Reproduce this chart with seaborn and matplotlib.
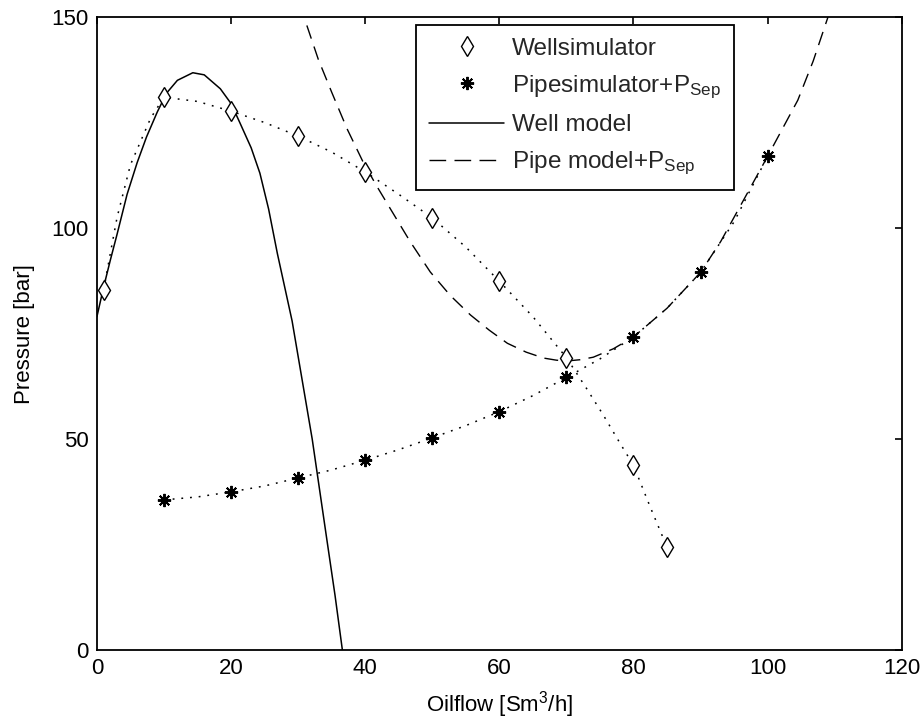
import matplotlib
matplotlib.use('Agg')
import numpy as np
import seaborn as sns
import matplotlib.pyplot as plt
from matplotlib.lines import Line2D

# measured points
well_sim_x = [1, 10, 20, 30, 40, 50, 60, 70, 80, 85]
well_sim_y = [85.3, 131, 127.7, 121.8, 113.3, 102.4, 87.4, 69.3, 43.8, 24.4]
pipe_sim_x = [10, 20, 30, 40, 50, 60, 70, 80, 90, 100]
pipe_sim_y = [35.6, 37.5, 40.8, 45.0, 50.3, 56.5, 64.6, 74.2, 89.5, 117.0]

well_dot_x = [1, 2, 3, 5, 8, 10, 15, 20, 25, 30, 35, 40, 45, 50, 55, 60, 65, 70, 73, 75.5, 78, 80, 82.5, 85]
well_dot_y = [85.3, 94, 102.5, 115, 126, 131, 130, 127.7, 125, 121.8, 118, 113.3, 108, 102.4, 95.5, 87.4, 79, 69.3, 62, 55.7, 49, 43.8, 33.9, 24.4]
pipe_dot_x = [10, 15, 20, 25, 30, 35, 40, 45, 50, 55, 60, 65, 70, 75, 80, 85, 90, 95, 100]
pipe_dot_y = [35.6, 36.3, 37.5, 38.9, 40.8, 42.7, 45.0, 47.5, 50.3, 53.2, 56.5, 60.3, 64.6, 69.0, 74.2, 81.0, 89.5, 101.5, 117.0]

# model curves
well_mod_x = [0, 1, 2, 3, 4.5, 6, 7.4, 9, 10.4, 12, 14.3, 16, 18.4, 20, 21.3, 23, 24.3, 25.6, 26.9, 28, 29.1, 30.6, 32.1, 33.2, 34.3, 35.5, 36.6]
well_mod_y = [79, 86, 92.4, 98.5, 108, 115.5, 121.6, 127.5, 132, 135, 136.8, 136.3, 133, 129.5, 125, 119, 113, 104.5, 94, 86, 78, 64, 50, 38, 26, 13, 0]
pipe_mod_x = [31.3, 33, 35, 37.3, 39.7, 41.7, 43.7, 46.7, 49.7, 52.7, 55.7, 58.5, 61.2, 64, 66.6, 68.5, 70, 72, 74, 77, 80, 85, 90, 93, 96.4, 100, 102.2, 104.5, 106.8, 109]
pipe_mod_y = [148, 140, 132.2, 123.5, 115.6, 110, 104.7, 96.8, 89.6, 84, 79.4, 75.8, 72.7, 70.6, 69.2, 68.7, 68.5, 68.8, 69.4, 71.4, 74.2, 81, 89.5, 96.8, 106.6, 117, 123.5, 130.3, 139.6, 150]

xticks = [0, 20, 40, 60, 80, 100, 120]
yticks = [0, 50, 100, 150]

sns.set_style("white")
plt.rcParams['font.family'] = ['Liberation Sans', 'DejaVu Sans']
plt.rcParams['mathtext.default'] = 'regular'

fig = plt.figure(figsize=(9.23, 7.24), dpi=100)
ax = fig.add_axes([0.105, 0.102, 0.872, 0.8745])

dot = (0, (1.2, 4.5))
dash = (0, (10, 6))
sns.lineplot(x=well_dot_x, y=well_dot_y, sort=False, estimator=None, color='black', lw=1.1, linestyle=dot, ax=ax)
sns.lineplot(x=pipe_dot_x, y=pipe_dot_y, sort=False, estimator=None, color='black', lw=1.1, linestyle=dot, ax=ax)
sns.lineplot(x=well_mod_x, y=well_mod_y, sort=False, estimator=None, color='black', lw=1.1, ax=ax)
sns.lineplot(x=pipe_mod_x, y=pipe_mod_y, sort=False, estimator=None, color='black', lw=1.0, linestyle=dash, ax=ax)

ax.plot(well_sim_x, well_sim_y, linestyle='none', marker='d', markersize=10.5, markerfacecolor='white',
        markeredgecolor='black', markeredgewidth=1.0)
ax.plot(pipe_sim_x, pipe_sim_y, linestyle='none', marker=(8, 2, 0), markersize=9.5,
        markeredgecolor='black', markeredgewidth=1.4)

ax.set_xlim(0, 120)
ax.set_ylim(0, 150)
ax.set_xticks(xticks)
ax.set_yticks(yticks)
ax.tick_params(direction='in', length=5, width=1.2, top=True, right=True, labelsize=16, colors='black', pad=6)
for s in ax.spines.values():
    s.set_color('black')
    s.set_linewidth(1.3)
ax.set_xlabel('Oilflow [Sm$^3$/h]', fontsize=16, color='black', labelpad=7)
ax.set_ylabel('Pressure [bar]', fontsize=16, color='black', labelpad=12)

handles = [
    Line2D([], [], linestyle='none', marker='d', markersize=10.5, markerfacecolor='white', markeredgecolor='black'),
    Line2D([], [], linestyle='none', marker=(8, 2, 0), markersize=9.5, markeredgecolor='black', markeredgewidth=1.4),
    Line2D([], [], color='black', lw=1.1),
    Line2D([], [], color='black', lw=1.0, linestyle=(0, (12, 6))),
]
labels = ['Wellsimulator', 'Pipesimulator+P$_{Sep}$', 'Well model', 'Pipe model+P$_{Sep}$']
leg = ax.legend(handles, labels, loc='upper left', bbox_to_anchor=(0.396, 0.988), fontsize=17.5,
                frameon=True, fancybox=False, edgecolor='black', framealpha=1, handlelength=3.1,
                handletextpad=0.3, labelspacing=0.55, borderpad=0.55, borderaxespad=0)
leg.get_frame().set_linewidth(1.3)

plt.savefig('out.png', dpi=100)
